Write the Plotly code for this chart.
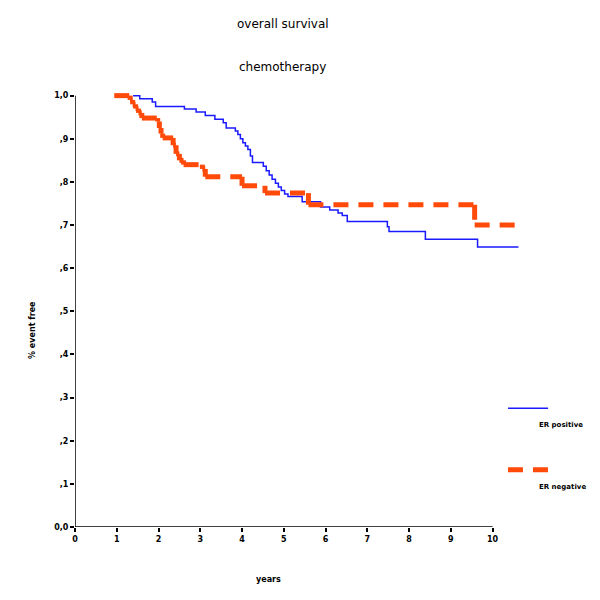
import plotly.graph_objects as go

# Kaplan-Meier estimates (years, proportion event free)
er_pos_years = [1.39, 1.55, 1.85, 1.93, 2.62, 2.90, 3.12, 3.35, 3.55, 3.62,
                3.84, 3.90, 3.96, 4.02, 4.08, 4.14, 4.20, 4.25,
                4.51, 4.58, 4.65, 4.72, 4.80, 4.87, 4.94, 5.02, 5.10,
                5.44, 5.88, 6.10, 6.30, 6.40, 6.52, 7.48, 7.52, 8.39, 9.64, 10.62]
er_pos_surv = [1.000, 0.993, 0.985, 0.975, 0.969, 0.962, 0.954, 0.945, 0.937, 0.925,
               0.918, 0.910, 0.900, 0.891, 0.883, 0.875, 0.860, 0.845,
               0.836, 0.826, 0.816, 0.806, 0.797, 0.788, 0.780, 0.772, 0.766,
               0.754, 0.742, 0.735, 0.728, 0.722, 0.708, 0.696, 0.685, 0.667, 0.649, 0.649]

er_neg_years = [0.94, 1.32, 1.38, 1.45, 1.52, 1.60, 1.98, 2.02, 2.06, 2.10,
                2.35, 2.42, 2.50, 2.60, 3.05, 3.12, 4.00, 4.55, 5.59, 9.57, 10.62]
er_neg_surv = [1.000, 0.990, 0.980, 0.970, 0.960, 0.948, 0.940, 0.925, 0.912, 0.902,
               0.885, 0.865, 0.850, 0.840, 0.830, 0.812, 0.791, 0.774, 0.747, 0.700, 0.700]

x_ticks = list(range(0, 11))
y_ticks = [0.0, 0.1, 0.2, 0.3, 0.4, 0.5, 0.6, 0.7, 0.8, 0.9, 1.0]
y_tick_text = ['0,0', ',1', ',2', ',3', ',4', ',5', ',6', ',7', ',8', ',9', '1,0']

BLUE = '#1a1aff'
ORANGE = '#ff4a0a'
FONT = 'DejaVu Sans'


def step_segments(xs, ys):
    # every horizontal and vertical piece is its own sub-path, so the dash
    # pattern restarts on each one (short staircase steps stay solid)
    sx, sy = [], []
    for i in range(len(xs) - 1):
        sx += [xs[i], xs[i + 1], None]
        sy += [ys[i], ys[i], None]
        if ys[i + 1] != ys[i]:
            sx += [xs[i + 1], xs[i + 1], None]
            sy += [ys[i], ys[i + 1], None]
    return sx, sy


fig = go.Figure()

fig.add_trace(go.Scatter(x=er_pos_years, y=er_pos_surv, mode='lines', name='ER positive',
                         line=dict(color=BLUE, width=1.5, shape='hv')))

neg_x, neg_y = step_segments(er_neg_years, er_neg_surv)
fig.add_trace(go.Scatter(x=neg_x, y=neg_y, mode='lines', name='ER negative', connectgaps=False,
                         line=dict(color=ORANGE, width=5, dash='15px,10px')))

# axis lines only span 0-10 years and 0-1
fig.add_shape(type='line', x0=0, x1=10, y0=0, y1=0, line=dict(color='black', width=1.5))
fig.add_shape(type='line', x0=0, x1=0, y0=0, y1=1.0, line=dict(color='black', width=1.5))

# legend drawn by hand: key above, label below-right
fig.add_shape(type='line', xref='paper', yref='paper', x0=0.960, x1=1.049, y0=0.270, y1=0.270,
              line=dict(color=BLUE, width=1.5))
fig.add_shape(type='line', xref='paper', yref='paper', x0=0.960, x1=1.049, y0=0.130, y1=0.130,
              line=dict(color=ORANGE, width=5, dash='15px,10px'))

annotations = [
    dict(text='overall survival', x=0.461, y=1.143, size=12, angle=0, anchor='center'),
    dict(text='chemotherapy', x=0.461, y=1.045, size=12, angle=0, anchor='center'),
    dict(text='<b>years</b>', x=0.43, y=-0.12, size=8, angle=0, anchor='center'),
    dict(text='<b>% event free</b>', x=-0.093, y=0.448, size=8, angle=-90, anchor='center'),
    dict(text='<b>ER positive</b>', x=1.024, y=0.232, size=7, angle=0, anchor='left'),
    dict(text='<b>ER negative</b>', x=1.024, y=0.091, size=7, angle=0, anchor='left'),
]
for a in annotations:
    fig.add_annotation(text=a['text'], x=a['x'], y=a['y'], xref='paper', yref='paper',
                       xanchor=a['anchor'], yanchor='middle', textangle=a['angle'],
                       showarrow=False, font=dict(family=FONT, size=a['size'], color='black'))

fig.update_xaxes(range=[0, 10.8], tickvals=x_ticks, ticks='outside', ticklen=4, tickwidth=1.5,
                 tickcolor='black', showgrid=False, zeroline=False, showline=False,
                 tickfont=dict(family=FONT, size=8, color='black', weight='bold'))
fig.update_yaxes(range=[0, 1.02], tickvals=y_ticks, ticktext=y_tick_text, ticks='outside',
                 ticklen=4, tickwidth=1.5, tickcolor='black', showgrid=False, zeroline=False,
                 showline=False, tickfont=dict(family=FONT, size=8, color='black', weight='bold'))

# page body adds an 8px offset, so the margins are shifted to compensate
fig.update_layout(width=600, height=600, showlegend=False,
                  plot_bgcolor='white', paper_bgcolor='white',
                  margin=dict(l=67, r=82, t=79, b=81))

fig.write_html("out.html")
